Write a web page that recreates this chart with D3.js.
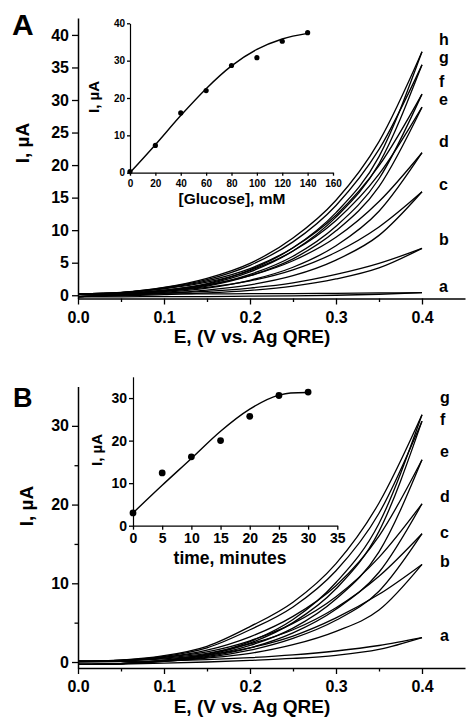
<!DOCTYPE html>
<html><head><meta charset="utf-8">
<script src="https://cdn.jsdelivr.net/npm/d3@7"></script>
<style>
body{margin:0;background:#fff}
svg text{font-family:Arial,"Liberation Sans",sans-serif;font-weight:bold;fill:#000}
</style>
</head><body>
<svg id="chart" width="466" height="723"></svg>
<script>
// ---------- DATA ----------
const potential = [0, 0.05, 0.1, 0.15, 0.2, 0.25, 0.3, 0.35, 0.4];
const xTicksMain = [0, 0.1, 0.2, 0.3, 0.4];
const xMinorMain = [0.05, 0.15, 0.25, 0.35];

// Panel A (glucose concentration series)
const curveLabelsA = ["a","b","c","d","e","f","g","h"];
const forwardA = [
  [0.15,0.15,0.2,0.2,0.25,0.25,0.3,0.35,0.4],
  [0.1,0.2,0.35,0.6,1.1,1.9,3.2,4.9,7.2],
  [0.15,0.3,0.6,1.2,2.2,3.9,6.6,10.5,15.9],
  [0.2,0.35,0.8,1.6,3.0,5.3,8.9,14.4,21.9],
  [0.2,0.4,1.0,2.0,3.8,6.8,11.5,18.6,28.9],
  [0.2,0.4,1.05,2.2,4.1,7.3,12.3,19.9,30.9],
  [0.2,0.4,1.15,2.4,4.6,8.2,13.8,22.4,35.4],
  [0.2,0.45,1.2,2.6,4.9,8.8,14.6,23.6,37.4]
];
const reverseA = [
  [-0.25,-0.25,-0.2,-0.2,-0.15,-0.1,0,0.15,0.4],
  [-0.2,-0.1,0.1,0.35,0.75,1.4,2.5,4.2,7.2],
  [-0.2,0,0.3,0.8,1.6,3.0,5.4,9.2,15.9],
  [-0.2,0.05,0.45,1.1,2.3,4.3,7.6,12.9,21.9],
  [-0.2,0.1,0.6,1.4,3.0,5.6,9.9,16.7,28.9],
  [-0.2,0.1,0.65,1.5,3.2,6.0,10.6,17.9,30.9],
  [-0.2,0.1,0.7,1.7,3.6,6.8,12.0,20.2,35.4],
  [-0.2,0.1,0.75,1.8,3.9,7.3,12.7,21.3,37.4]
];
const yTicksA = [0,5,10,15,20,25,30,35,40];

// Inset A
const glucose = [0,20,40,60,80,100,120,140];
const currentGlucose = [0.3,7.3,16,22,28.7,30.8,35.2,37.5];
const fitGlucoseX = [0,20,40,60,80,100,120,140];
const fitGlucoseY = [0,7.5,15.3,22.5,28.6,33,35.8,37.3];
const xTicksInsetA = [0,20,40,60,80,100,120,140,160];
const yTicksInsetA = [0,10,20,30,40];

// Panel B (time series)
const curveLabelsB = ["a","b","c","d","e","f","g"];
const forwardB = [
  [0,0.05,0.15,0.3,0.55,0.9,1.4,2.1,3.1],
  [0.05,0.15,0.4,0.9,1.8,3.3,5.6,8.6,12.4],
  [0.1,0.2,0.5,1.1,2.3,4.1,6.9,10.9,16.3],
  [0.1,0.2,0.6,1.3,2.7,4.9,8.3,13.3,20.1],
  [0.1,0.2,0.6,1.5,3.2,5.8,9.7,16.0,25.7],
  [0.1,0.2,0.7,1.8,4.1,7.0,11.6,18.9,30.6],
  [0.1,0.25,0.8,2.0,4.5,7.6,12.5,20.2,31.4]
];
const reverseB = [
  [-0.3,-0.25,-0.15,0,0.2,0.45,0.85,1.6,3.1],
  [-0.3,-0.2,0.1,0.5,1.1,2.2,3.9,6.6,12.4],
  [-0.3,-0.2,0.1,0.6,1.5,3.0,5.3,9.0,16.3],
  [-0.3,-0.2,0.15,0.7,1.8,3.7,6.7,11.4,20.1],
  [-0.3,-0.2,0.2,0.8,2.1,4.3,8.0,14.0,25.7],
  [-0.3,-0.2,0.2,0.9,2.4,5.0,9.3,16.6,30.6],
  [-0.3,-0.2,0.25,1.0,2.6,5.4,10.1,17.6,31.4]
];
const yTicksB = [0,10,20,30];
const yMinorB = [5,15,25];

// Inset B
const timeMin = [0,5,10,15,20,25,30];
const currentTime = [3,12.4,16.2,20,25.7,30.6,31.4];
const fitTimeX = [0,5,10,15,20,25,27,30];
const fitTimeY = [3,9.5,15.8,22.2,27.4,30.7,31.2,31.3];
const xTicksInsetB = [0,5,10,15,20,25,30,35];
const yTicksInsetB = [0,10,20,30];

// ---------- LAYOUT ----------
const labelNudgeA = [-1,-3,-2,-6,-2,-7,-2,-7];
const labelNudgeB = [3,3,4,-2,-3,4,-12];

const svg = d3.select("#chart");

function styleAxis(g, fs){
  g.selectAll("path.domain").attr("stroke","#000").attr("stroke-width",1.5);
  g.selectAll(".tick line").attr("stroke","#000").attr("stroke-width",1.3);
  g.selectAll("text").attr("font-size",fs).attr("font-family",'Arial,"Liberation Sans",sans-serif').attr("font-weight","bold").attr("fill","#000");
}

function mainPanel(opt){
  const x = d3.scaleLinear().domain([0,0.45]).range([78,465]);
  const y = d3.scaleLinear().domain(opt.yDomain).range(opt.yRange);
  const gx = svg.append("g").attr("transform",`translate(0,${opt.yRange[0]})`)
    .call(d3.axisBottom(x).tickValues(xTicksMain).tickFormat(d3.format(".1f")).tickSize(6).tickSizeOuter(0).tickPadding(7));
  styleAxis(gx,16);
  const gxm = svg.append("g").attr("transform",`translate(0,${opt.yRange[0]})`)
    .call(d3.axisBottom(x).tickValues(xMinorMain).tickFormat("").tickSize(3.5).tickSizeOuter(0));
  styleAxis(gxm,16); gxm.select("path.domain").remove();
  const gy = svg.append("g").attr("transform","translate(78,0)")
    .call(d3.axisLeft(y).tickValues(opt.yTicks).tickSize(6).tickSizeOuter(0).tickPadding(3));
  styleAxis(gy,16);
  if(opt.yMinor){
    const gym = svg.append("g").attr("transform","translate(78,0)")
      .call(d3.axisLeft(y).tickValues(opt.yMinor).tickFormat("").tickSize(3.5).tickSizeOuter(0));
    styleAxis(gym,16); gym.select("path.domain").remove();
  }
  const line = d3.line().x((d,i)=>x(potential[i])).y(d=>y(d)).curve(d3.curveMonotoneX);
  const gc = svg.append("g");
  opt.fwd.forEach((arr,k)=>{
    gc.append("path").attr("d",line(arr)).attr("fill","none").attr("stroke","#000").attr("stroke-width",1.3);
    gc.append("path").attr("d",line(opt.rev[k])).attr("fill","none").attr("stroke","#000").attr("stroke-width",1.3);
    svg.append("text").attr("x",opt.labelX).attr("y",y(arr[arr.length-1])+opt.nudge[k])
      .attr("font-size",16).text(opt.labels[k]);
  });
  svg.append("text").attr("x",252).attr("y",opt.yRange[0]+44.5).attr("text-anchor","middle")
    .attr("font-size",19).text("E, (V vs. Ag QRE)");
  svg.append("text").attr("transform",`translate(${opt.yLabelX},${opt.yLabelY}) rotate(-90)`)
    .attr("text-anchor","middle").attr("font-size",19).text("I, µA");
  svg.append("text").attr("x",opt.pX).attr("y",opt.pY).attr("font-size",opt.pSize).text(opt.panel);
}

function inset(opt){
  const x = d3.scaleLinear().domain(opt.xDomain).range(opt.xRange);
  const y = d3.scaleLinear().domain(opt.yDomain).range(opt.yRange);
  const gx = svg.append("g").attr("transform",`translate(0,${opt.yRange[0]})`)
    .call(d3.axisBottom(x).tickValues(opt.xTicks).tickFormat(d3.format("d")).tickSize(opt.ts).tickSizeOuter(0).tickPadding(opt.xPad));
  styleAxis(gx,opt.fs);
  gx.select("path.domain").attr("stroke-width",1.2);
  const gy = svg.append("g").attr("transform",`translate(${opt.xRange[0]},0)`)
    .call(d3.axisLeft(y).tickValues(opt.yTicks).tickFormat(d3.format("d")).tickSize(opt.ts).tickSizeOuter(0).tickPadding(2));
  styleAxis(gy,opt.fs);
  gy.select("path.domain").attr("stroke-width",1.2);
  const line = d3.line().x((d,i)=>x(opt.fitX[i])).y(d=>y(d)).curve(d3.curveMonotoneX);
  svg.append("path").attr("d",line(opt.fitY)).attr("fill","none").attr("stroke","#000").attr("stroke-width",1.4);
  svg.append("g").selectAll("circle").data(opt.py).join("circle")
    .attr("cx",(d,i)=>x(opt.px[i])).attr("cy",d=>y(d)).attr("r",opt.r).attr("fill","#000");
  svg.append("text").attr("x",opt.tX).attr("y",opt.tY).attr("text-anchor","middle")
    .attr("font-size",opt.tfs).text(opt.title);
  svg.append("text").attr("transform",`translate(${opt.ylX},${opt.ylY}) rotate(-90)`)
    .attr("text-anchor","middle").attr("font-size",15).text("I, µA");
}

mainPanel({yDomain:[-0.5,42.6], yRange:[298.5,18], yTicks:yTicksA, fwd:forwardA, rev:reverseA,
  labels:curveLabelsA, nudge:labelNudgeA, labelX:439, yLabelX:29, yLabelY:143,
  panel:"A", pX:12, pY:35, pSize:30});
mainPanel({yDomain:[-0.76,35], yRange:[668,386.5], yTicks:yTicksB, yMinor:yMinorB, fwd:forwardB, rev:reverseB,
  labels:curveLabelsB, nudge:labelNudgeB, labelX:440, yLabelX:33, yLabelY:506,
  panel:"B", pX:13, pY:407, pSize:27});

inset({xDomain:[0,160], xRange:[130,333], yDomain:[0,40], yRange:[172.7,23.3],
  xTicks:xTicksInsetA, yTicks:yTicksInsetA, ts:3, fs:10, xPad:4,
  fitX:fitGlucoseX, fitY:fitGlucoseY, px:glucose, py:currentGlucose, r:2.6,
  title:"[Glucose], mM", tX:232, tY:204, tfs:15.5, ylX:99, ylY:97});
inset({xDomain:[0,35], xRange:[133,337.3], yDomain:[0,35], yRange:[525.7,376.8],
  xTicks:xTicksInsetB, yTicks:yTicksInsetB, ts:4, fs:14, xPad:3.5,
  fitX:fitTimeX, fitY:fitTimeY, px:timeMin, py:currentTime, r:3.4,
  title:"time, minutes", tX:230, tY:564, tfs:17.5, ylX:102, ylY:450});
</script>
</body></html>
